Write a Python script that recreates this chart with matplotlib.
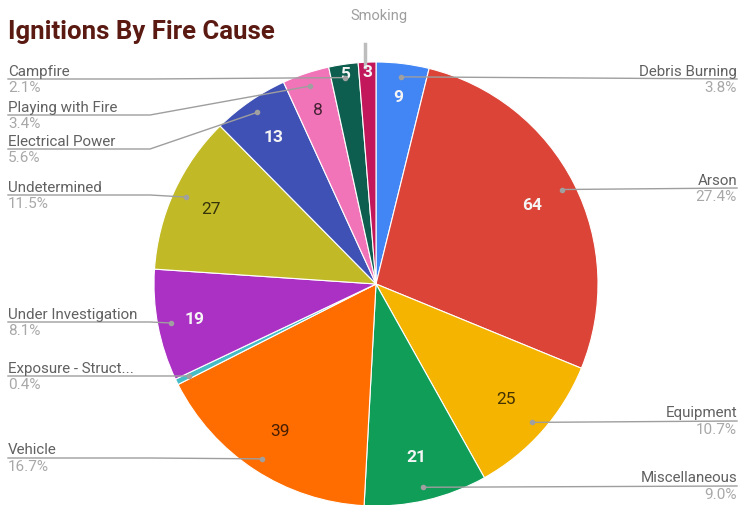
import numpy as np
import matplotlib.pyplot as plt

plt.rcParams['font.family'] = ['Roboto', 'DejaVu Sans']

# data (clockwise from 12 o'clock)
causes = ['Debris Burning', 'Arson', 'Equipment', 'Miscellaneous', 'Vehicle',
          'Exposure - Struct...', 'Under Investigation', 'Undetermined',
          'Electrical Power', 'Playing with Fire', 'Campfire', 'Smoking']
counts = [9, 64, 25, 21, 39, 1, 19, 27, 13, 8, 5, 3]
colors = ['#4285F4', '#DB4437', '#F4B400', '#0F9D58', '#FF6D00', '#46BDC6',
          '#AB30C4', '#C1BA26', '#3F51B5', '#F274B8', '#0D5E4E', '#C2185B']

# layout (pixel coords): which side each label sits on and y of its leader line
label_side = ['R', 'R', 'R', 'R', 'L', 'L', 'L', 'L', 'L', 'L', 'L', 'T']
label_line_y = [80, 189, 422, 487, 459, 377, 323, 196, 150, 116, 80, None]
value_r = [0.85, 0.79, 0.78, 0.8, 0.79, 0, 0.83, 0.82, 0.81, 0.83, 0.96, 0.96]
light_slices = ('#F4B400', '#FF6D00', '#C1BA26', '#F274B8')

W, H = 739, 506
cx, cy, R = 376, 285, 222
total = sum(counts)

fig = plt.figure(figsize=(W / 100, H / 100), dpi=100)
ax = fig.add_axes([0, 0, 1, 1])

wedges, _ = ax.pie(counts, colors=colors, radius=R, center=(cx, cy),
                   startangle=-90, counterclock=True,
                   wedgeprops=dict(edgecolor='white', linewidth=0.8))
ax.set_xlim(0, W)
ax.set_ylim(H, 0)
ax.set_aspect('equal')
ax.axis('off')

line_col = '#9E9E9E'
for i, w in enumerate(wedges):
    mid = np.deg2rad((w.theta1 + w.theta2) / 2)
    # value label inside the slice
    if value_r[i] > 0:
        vx = cx + value_r[i] * R * np.cos(mid)
        vy = cy + value_r[i] * R * np.sin(mid)
        if colors[i] in light_slices:
            ax.text(vx, vy, str(counts[i]), ha='center', va='center',
                    fontsize=12.5, color='black', alpha=0.72)
        else:
            ax.text(vx, vy, str(counts[i]), ha='center', va='center',
                    fontsize=12.5, fontweight='bold', color='#F5F5F5')

    dx = cx + 0.94 * R * np.cos(mid)
    dy = cy + 0.94 * R * np.sin(mid)
    pct = '{:.1f}%'.format(counts[i] / total * 100)

    if label_side[i] == 'T':
        ax.plot([dx - 3, dx - 3], [45, 68], color='#BDBDBD', lw=2.5)
        ax.text(379, 16, causes[i], ha='center', va='center',
                fontsize=10.5, color='#9E9E9E')
        continue

    ly = label_line_y[i]
    if label_side[i] == 'R':
        ax.plot([dx, W - 2], [dy, ly], color=line_col, lw=1)
        tx, ha = W - 2, 'right'
    else:
        bend = min(150, dx)
        ax.plot([8, bend, dx], [ly, ly, dy], color=line_col, lw=1)
        tx, ha = 8, 'left'
    ax.plot(dx, dy, 'o', ms=3, color='#A0A0A0', zorder=5)
    ax.text(tx, ly - 1.5, causes[i], ha=ha, va='bottom',
            fontsize=10.9, color='#616161')
    ax.text(tx, ly + 1, pct, ha=ha, va='top', fontsize=11, color='#A8A8A8')

ax.text(8, 32, 'Ignitions By Fire Cause', ha='left', va='center',
        fontsize=18.5, fontweight='bold', color='#5A1A12')

fig.savefig('out.png', dpi=100)
